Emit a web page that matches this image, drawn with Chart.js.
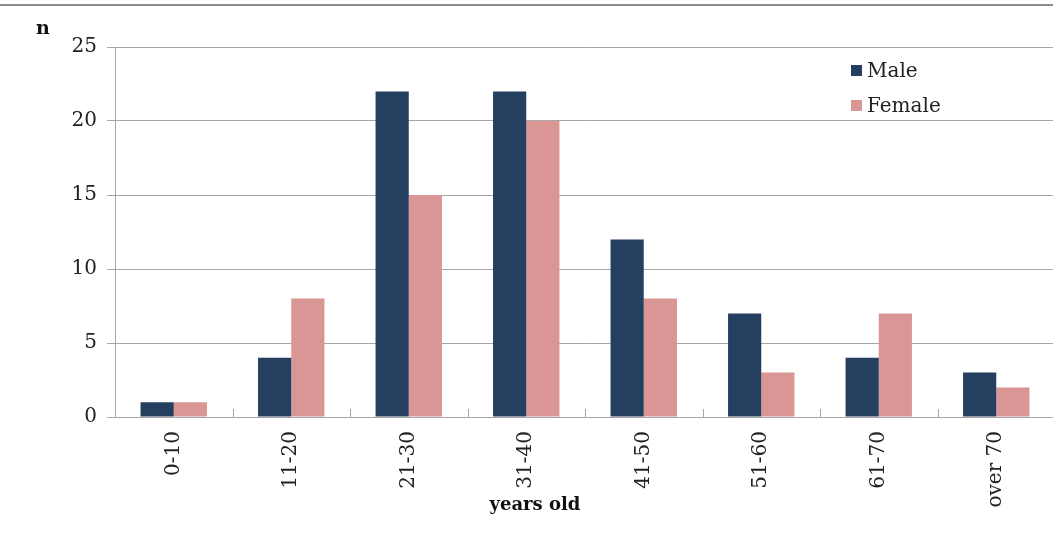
<!DOCTYPE html>
<html>
<head>
<meta charset="utf-8">
<script src="https://cdn.jsdelivr.net/npm/chart.js@4"></script>
<style>
  html, body { margin: 0; padding: 0; background: #fff; overflow: hidden; width: 1053px; height: 539px; }
  #wrap { position: absolute; left: 0; top: 0; width: 1058px; height: 539px; }
  #topline { position: absolute; left: 0; top: 4px; width: 1053px; height: 2px; background: #8c8c8c; }
  #ntitle { position: absolute; left: 36px; top: 16px; font: bold 19px "DejaVu Serif", serif; color: #111; }
  #xtitle { position: absolute; left: 435px; width: 200px; text-align: center; top: 493px; font: bold 18px "DejaVu Serif", serif; color: #111; }
  .leg { position: absolute; left: 851px; font: 20px "DejaVu Serif", serif; color: #222; white-space: nowrap; }
  .leg span.sw { display: inline-block; width: 11px; height: 11px; margin-right: 5px; vertical-align: 1px; }
</style>
</head>
<body>
<div id="topline"></div>
<div id="wrap"><canvas id="c"></canvas></div>
<div id="ntitle">n</div>
<div id="xtitle">years old</div>
<div class="leg" style="top:58px"><span class="sw" style="background:#243F60"></span>Male</div>
<div class="leg" style="top:93px"><span class="sw" style="background:#D99694"></span>Female</div>
<script>
const categories = ["0-10", "11-20", "21-30", "31-40", "41-50", "51-60", "61-70", "over 70"];
const maleValues = [1, 4, 22, 22, 12, 7, 4, 3];
const femaleValues = [1, 8, 15, 20, 8, 3, 7, 2];
const yTicks = [0, 5, 10, 15, 20, 25];

const gridColor = "#a6a6a6";

const catTicks = {
  id: "catTicks",
  afterDatasetsDraw(chart) {
    const x = chart.scales.x, ctx = chart.ctx, bottom = chart.chartArea.bottom;
    ctx.save();
    ctx.strokeStyle = gridColor;
    ctx.lineWidth = 1;
    for (let i = 1; i < categories.length; i++) {
      const px = Math.round((x.getPixelForTick(i - 1) + x.getPixelForTick(i)) / 2) + 0.5;
      ctx.beginPath();
      ctx.moveTo(px, bottom);
      ctx.lineTo(px, bottom - 8);
      ctx.stroke();
    }
    ctx.restore();
  }
};

new Chart(document.getElementById("c"), {
  type: "bar",
  data: {
    labels: categories,
    datasets: [
      { label: "Male", data: maleValues, backgroundColor: "#243F60", borderWidth: 0 },
      { label: "Female", data: femaleValues, backgroundColor: "#D99694", borderWidth: 0 }
    ]
  },
  options: {
    responsive: true,
    maintainAspectRatio: false,
    animation: false,
    devicePixelRatio: 1,
    layout: { padding: { top: 47, right: 3, left: 0, bottom: 0 } },
    plugins: { legend: { display: false }, tooltip: { enabled: false } },
    datasets: { bar: { categoryPercentage: 0.565, barPercentage: 1.0 } },
    scales: {
      x: {
        grid: { display: true, drawOnChartArea: false, drawTicks: false },
        border: { display: true, color: gridColor, width: 1 },
        ticks: {
          color: "#222",
          font: { family: "DejaVu Serif", size: 20 },
          minRotation: 90, maxRotation: 90,
          padding: 14,
          autoSkip: false
        },
        afterFit(scale) { scale.height = 122; }
      },
      y: {
        min: 0, max: 25,
        afterBuildTicks(scale) { scale.ticks = yTicks.map(v => ({ value: v })); },
        grid: { color: gridColor, lineWidth: 1, tickLength: 8, drawTicks: true },
        border: { display: true, color: gridColor, width: 1 },
        ticks: {
          color: "#222",
          font: { family: "DejaVu Serif", size: 20 },
          padding: 10
        },
        afterFit(scale) { scale.width = 115; }
      }
    }
  },
  plugins: [catTicks]
});
</script>
</body>
</html>
